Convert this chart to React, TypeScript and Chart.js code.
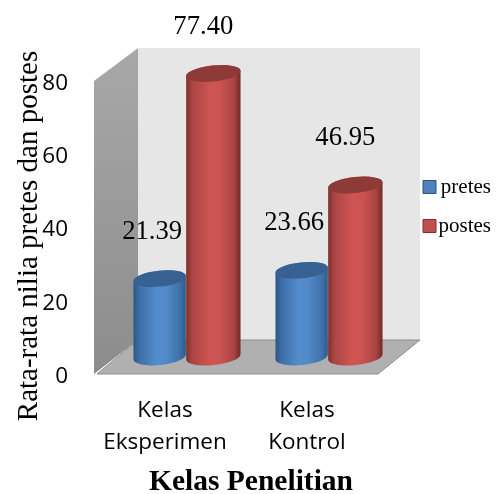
import React, { useEffect, useRef } from "react";
import { Chart, registerables, BarController, BarElement } from "chart.js";

const categories = [["Kelas", "Eksperimen"], ["Kelas", "Kontrol"]];
const pretes = [21.39, 23.66];
const postes = [77.4, 46.95];
const seriesNames = ["pretes", "postes"];
const yTitle = "Rata-rata nilia pretes dan postes";
const xTitle = "Kelas Penelitian";
const SERIF = "'Liberation Serif'";
const SANS = "'Open Sans'";

const DEPTH_X = 44;
const DEPTH_Y = 34;
const BAR_SHIFT_X = 21;
const TILT = (-6 * Math.PI) / 180;
const RY = 8;

type Palette = { stops: [number, string][]; cap: string; inset: number; labelDx: number };
const BLUE: Palette = {
  stops: [[0, "#2c5684"], [0.12, "#3d6fa8"], [0.45, "#548dcc"], [0.62, "#528ac8"], [0.88, "#3f72aa"], [1, "#2f5a88"]],
  cap: "#366192",
  inset: 1,
  labelDx: -6.5,
};
const RED: Palette = {
  stops: [[0, "#7f302e"], [0.12, "#ac4645"], [0.45, "#cf5554"], [0.62, "#cc5352"], [0.88, "#a94443"], [1, "#702826"]],
  cap: "#8e3a38",
  inset: 0,
  labelDx: -10,
};
const palettes = [BLUE, RED];

class CylinderElement extends BarElement {
  static id = "cylinder";
  draw(ctx: CanvasRenderingContext2D) {
    const { x, y, base, width } = (this as any).getProps(["x", "y", "base", "width"]);
    const pal: Palette = (this as any).options.backgroundColor === "#4f81bd" ? BLUE : RED;
    const cx = x + BAR_SHIFT_X + pal.inset;
    const top = y - DEPTH_Y / 2;
    const bottom = base - DEPTH_Y / 2;
    const rx = width / 2 - pal.inset;
    const g = ctx.createLinearGradient(cx - rx, 0, cx + rx, 0);
    pal.stops.forEach(([o, c]) => g.addColorStop(o, c));
    ctx.save();
    ctx.beginPath();
    ctx.ellipse(cx, bottom, rx, RY, TILT, 0, Math.PI);
    ctx.ellipse(cx, top, rx, RY, TILT, Math.PI, Math.PI * 2);
    ctx.closePath();
    ctx.fillStyle = g;
    ctx.fill();
    ctx.beginPath();
    ctx.ellipse(cx, top, rx, RY, TILT, 0, Math.PI * 2);
    ctx.fillStyle = pal.cap;
    ctx.fill();
    ctx.restore();
  }
}

class CylinderController extends BarController {
  static id = "cylinder";
  static defaults = { ...(BarController as any).defaults, dataElementType: "cylinder" };
}

Chart.register(...registerables, CylinderElement as any, CylinderController as any);

const scene = {
  id: "scene",
  afterLayout(chart: any) {
    const lg = chart.legend;
    const h = lg.bottom - lg.top;
    lg.left = 405;
    lg.right = 491;
    lg.top = 158.5;
    lg.bottom = 158.5 + h;
  },
  beforeDatasetsDraw(chart: any) {
    const { ctx, chartArea: a } = chart;
    const { left: l, right: r, top: t, bottom: b } = a;
    ctx.save();
    // back wall
    ctx.fillStyle = "#e6e6e6";
    ctx.fillRect(l + DEPTH_X, t - DEPTH_Y + 1, r - l - 2, b - t);
    // left wall
    const g = ctx.createLinearGradient(0, t - DEPTH_Y, 0, b);
    g.addColorStop(0, "#a8a8a8");
    g.addColorStop(1, "#8c8c8c");
    ctx.fillStyle = g;
    ctx.beginPath();
    ctx.moveTo(l, t);
    ctx.lineTo(l + DEPTH_X, t - DEPTH_Y + 1);
    ctx.lineTo(l + DEPTH_X, b - DEPTH_Y);
    ctx.lineTo(l, b);
    ctx.closePath();
    ctx.fill();
    // floor
    ctx.fillStyle = "#b0b0b0";
    ctx.strokeStyle = "#8e8e8e";
    ctx.lineWidth = 1;
    ctx.beginPath();
    ctx.moveTo(l + 3, b);
    ctx.lineTo(l + DEPTH_X, b - DEPTH_Y);
    ctx.lineTo(r + DEPTH_X - 2, b - DEPTH_Y);
    ctx.lineTo(r, b);
    ctx.closePath();
    ctx.fill();
    ctx.stroke();
    ctx.restore();
    // red cylinders overlap blue ones: draw in dataset order
    chart.getSortedVisibleDatasetMetas().forEach((m: any) => m.controller.draw());
    // value labels
    ctx.save();
    ctx.font = `26.67px ${SERIF}`;
    ctx.fillStyle = "#000";
    ctx.textAlign = "center";
    ctx.textBaseline = "middle";
    chart.getSortedVisibleDatasetMetas().forEach((m: any) => {
      m.data.forEach((el: any, i: number) => {
        const v = chart.data.datasets[m.index].data[i] as number;
        ctx.fillText(v.toFixed(2), el.x + BAR_SHIFT_X + palettes[m.index].labelDx, el.y - DEPTH_Y / 2 - 47);
      });
    });
    // y axis title
    ctx.font = `29px ${SERIF}`;
    ctx.textBaseline = "alphabetic";
    ctx.translate(37, 236);
    ctx.rotate(-Math.PI / 2);
    ctx.fillText(yTitle, 0, 0);
    ctx.restore();
    return false;
  },
};

export default function App() {
  const ref = useRef<HTMLCanvasElement>(null);
  useEffect(() => {
    const chart = new Chart(ref.current!, {
      type: "cylinder" as any,
      data: {
        labels: categories as any,
        datasets: [
          { label: seriesNames[0], data: pretes, backgroundColor: "#4f81bd", borderColor: "#2c5684", borderWidth: 1, categoryPercentage: 0.77, barPercentage: 1 },
          { label: seriesNames[1], data: postes, backgroundColor: "#c0504d", borderColor: "#7f302e", borderWidth: 1, categoryPercentage: 0.77, barPercentage: 1 },
        ] as any,
      },
      options: {
        animation: false,
        responsive: false,
        layout: { padding: { left: 20, top: 81, right: 15, bottom: 0 } },
        plugins: {
          tooltip: { enabled: false },
          title: {
            display: true,
            text: xTitle,
            position: "bottom",
            color: "#000",
            font: { family: SERIF, size: 29.5, weight: "bold", lineHeight: 1 },
            padding: { top: 0, bottom: -3 },
          },
          legend: {
            position: "right",
            align: "start",
            labels: {
              boxWidth: 13,
              boxHeight: 13,
              padding: 18,
              color: "#000",
              textAlign: "right",
              font: { family: SERIF, size: 21 },
            },
          },
        },
        scales: {
          x: {
            grid: { display: false },
            border: { display: false },
            afterFit: (s: any) => { s.height = 93.5; },
            ticks: {
              color: "#000",
              padding: 12,
              autoSkip: false,
              maxRotation: 0,
              font: { family: SANS, size: 22.5, lineHeight: 1.45 },
            },
          },
          y: {
            min: 0,
            max: 80,
            grid: { display: false, drawTicks: false },
            border: { display: false },
            afterFit: (s: any) => { s.width = 74; },
            ticks: {
              stepSize: 20,
              color: "#000",
              padding: 26,
              labelOffset: 2.5,
              font: { family: SANS, size: 22.5 },
            },
          },
        },
      } as any,
      plugins: [scene as any],
    });
    return () => chart.destroy();
  }, []);
  return (
    <div style={{ position: "absolute", left: 0, top: 0, width: 497, height: 494 }}>
      <canvas ref={ref} width={497} height={494} style={{ display: "block" }} />
    </div>
  );
}
